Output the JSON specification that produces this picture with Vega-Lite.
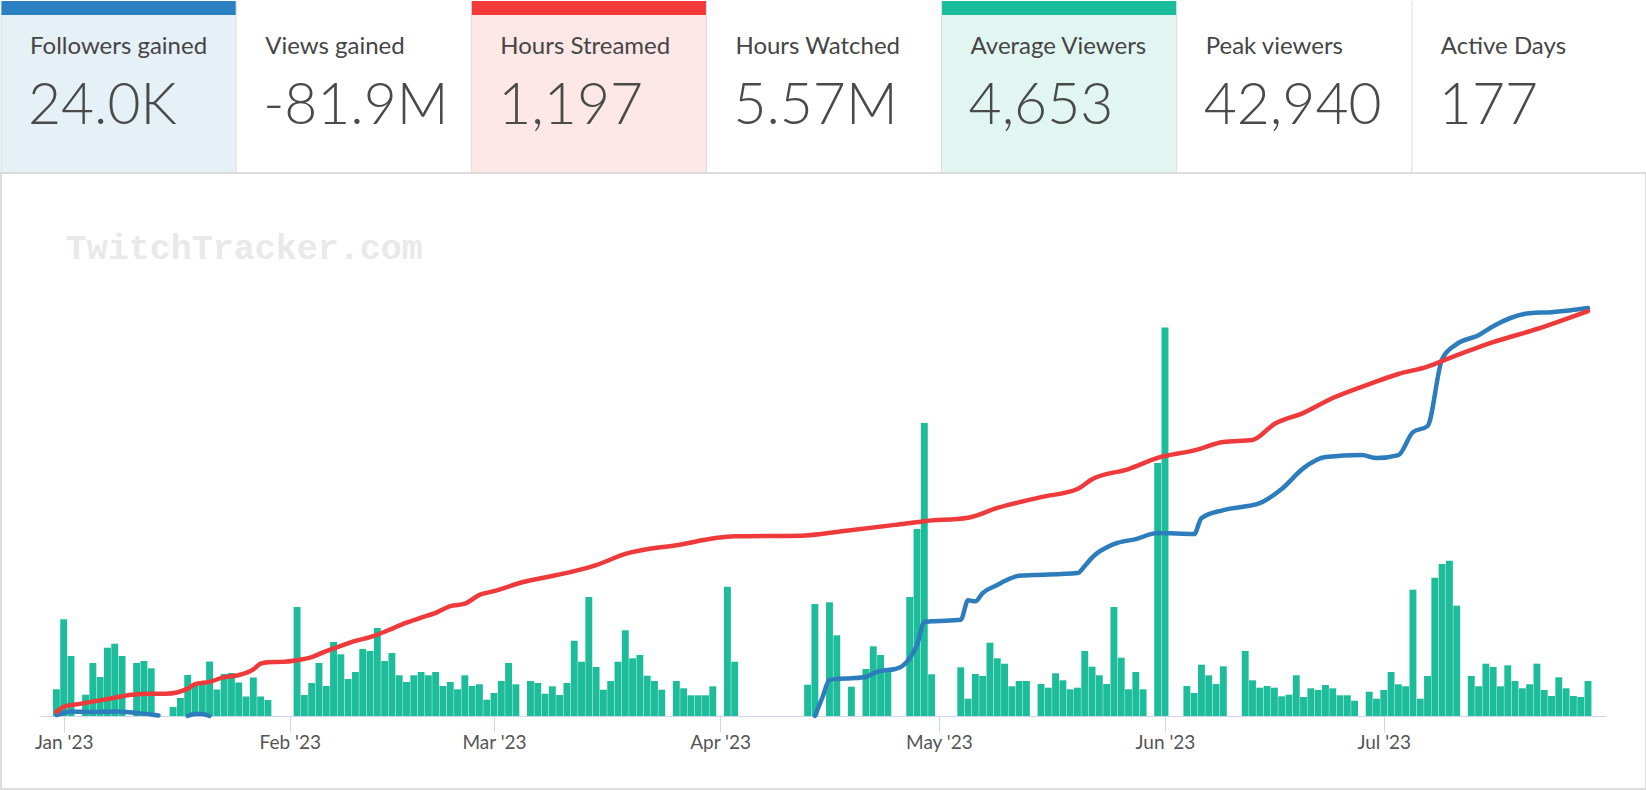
{
  "$schema": "https://vega.github.io/schema/vega-lite/v6.json",
  "background": "white",
  "padding": 0,
  "autosize": {"type": "pad"},
  "bounds": "flush",
  "spacing": 0,
  "config": {"view": {"stroke": null}, "font": "Lato"},
  "resolve": {"scale": {"color": "independent"}},
  "datasets": {
    "cards": [
      {"card": "Followers gained", "value": "24.0K"},
      {"card": "Views gained", "value": "-81.9M"},
      {"card": "Hours Streamed", "value": "1,197"},
      {"card": "Hours Watched", "value": "5.57M"},
      {"card": "Average Viewers", "value": "4,653"},
      {"card": "Peak viewers", "value": "42,940"},
      {"card": "Active Days", "value": "177"}
    ],
    "daily": [
      {"date": "2022-12-31", "viewers": 2670},
      {"date": "2023-01-01", "viewers": 9670},
      {"date": "2023-01-02", "viewers": 6000},
      {"date": "2023-01-04", "viewers": 2130},
      {"date": "2023-01-05", "viewers": 5300},
      {"date": "2023-01-06", "viewers": 3900},
      {"date": "2023-01-07", "viewers": 6830},
      {"date": "2023-01-08", "viewers": 7230},
      {"date": "2023-01-09", "viewers": 6000},
      {"date": "2023-01-11", "viewers": 5300},
      {"date": "2023-01-12", "viewers": 5500},
      {"date": "2023-01-13", "viewers": 4770},
      {"date": "2023-01-16", "viewers": 900},
      {"date": "2023-01-17", "viewers": 1800},
      {"date": "2023-01-18", "viewers": 4100},
      {"date": "2023-01-19", "viewers": 3200},
      {"date": "2023-01-20", "viewers": 3200},
      {"date": "2023-01-21", "viewers": 5450},
      {"date": "2023-01-22", "viewers": 2650},
      {"date": "2023-01-23", "viewers": 4200},
      {"date": "2023-01-24", "viewers": 4300},
      {"date": "2023-01-25", "viewers": 3350},
      {"date": "2023-01-26", "viewers": 1950},
      {"date": "2023-01-27", "viewers": 3850},
      {"date": "2023-01-28", "viewers": 1950},
      {"date": "2023-01-29", "viewers": 1600},
      {"date": "2023-02-02", "viewers": 10900},
      {"date": "2023-02-03", "viewers": 2100},
      {"date": "2023-02-04", "viewers": 3300},
      {"date": "2023-02-05", "viewers": 5300},
      {"date": "2023-02-06", "viewers": 3000},
      {"date": "2023-02-07", "viewers": 7400},
      {"date": "2023-02-08", "viewers": 6170},
      {"date": "2023-02-09", "viewers": 3700},
      {"date": "2023-02-10", "viewers": 4400},
      {"date": "2023-02-11", "viewers": 6700},
      {"date": "2023-02-12", "viewers": 6500},
      {"date": "2023-02-13", "viewers": 8800},
      {"date": "2023-02-14", "viewers": 5500},
      {"date": "2023-02-15", "viewers": 6300},
      {"date": "2023-02-16", "viewers": 4070},
      {"date": "2023-02-17", "viewers": 3400},
      {"date": "2023-02-18", "viewers": 4070},
      {"date": "2023-02-19", "viewers": 4400},
      {"date": "2023-02-20", "viewers": 4070},
      {"date": "2023-02-21", "viewers": 4400},
      {"date": "2023-02-22", "viewers": 3000},
      {"date": "2023-02-23", "viewers": 3400},
      {"date": "2023-02-24", "viewers": 2670},
      {"date": "2023-02-25", "viewers": 4070},
      {"date": "2023-02-26", "viewers": 3000},
      {"date": "2023-02-27", "viewers": 3170},
      {"date": "2023-02-28", "viewers": 1630},
      {"date": "2023-03-01", "viewers": 2300},
      {"date": "2023-03-02", "viewers": 3500},
      {"date": "2023-03-03", "viewers": 5300},
      {"date": "2023-03-04", "viewers": 3170},
      {"date": "2023-03-06", "viewers": 3500},
      {"date": "2023-03-07", "viewers": 3300},
      {"date": "2023-03-08", "viewers": 2230},
      {"date": "2023-03-09", "viewers": 2970},
      {"date": "2023-03-10", "viewers": 2100},
      {"date": "2023-03-11", "viewers": 3300},
      {"date": "2023-03-12", "viewers": 7530},
      {"date": "2023-03-13", "viewers": 5430},
      {"date": "2023-03-14", "viewers": 11900},
      {"date": "2023-03-15", "viewers": 4900},
      {"date": "2023-03-16", "viewers": 2630},
      {"date": "2023-03-17", "viewers": 3500},
      {"date": "2023-03-18", "viewers": 5430},
      {"date": "2023-03-19", "viewers": 8570},
      {"date": "2023-03-20", "viewers": 5770},
      {"date": "2023-03-21", "viewers": 6100},
      {"date": "2023-03-22", "viewers": 4030},
      {"date": "2023-03-23", "viewers": 3500},
      {"date": "2023-03-24", "viewers": 2630},
      {"date": "2023-03-26", "viewers": 3500},
      {"date": "2023-03-27", "viewers": 2770},
      {"date": "2023-03-28", "viewers": 2070},
      {"date": "2023-03-29", "viewers": 2070},
      {"date": "2023-03-30", "viewers": 2070},
      {"date": "2023-03-31", "viewers": 2970},
      {"date": "2023-04-02", "viewers": 12930},
      {"date": "2023-04-03", "viewers": 5430},
      {"date": "2023-04-13", "viewers": 3130},
      {"date": "2023-04-14", "viewers": 11200},
      {"date": "2023-04-16", "viewers": 11370},
      {"date": "2023-04-17", "viewers": 8070},
      {"date": "2023-04-19", "viewers": 2930},
      {"date": "2023-04-21", "viewers": 4700},
      {"date": "2023-04-22", "viewers": 6970},
      {"date": "2023-04-23", "viewers": 6100},
      {"date": "2023-04-24", "viewers": 4700},
      {"date": "2023-04-27", "viewers": 11900},
      {"date": "2023-04-28", "viewers": 18700},
      {"date": "2023-04-29", "viewers": 29300},
      {"date": "2023-04-30", "viewers": 4170},
      {"date": "2023-05-04", "viewers": 4870},
      {"date": "2023-05-05", "viewers": 1730},
      {"date": "2023-05-06", "viewers": 4200},
      {"date": "2023-05-07", "viewers": 4000},
      {"date": "2023-05-08", "viewers": 7330},
      {"date": "2023-05-09", "viewers": 5770},
      {"date": "2023-05-10", "viewers": 5230},
      {"date": "2023-05-11", "viewers": 2970},
      {"date": "2023-05-12", "viewers": 3500},
      {"date": "2023-05-13", "viewers": 3500},
      {"date": "2023-05-15", "viewers": 3200},
      {"date": "2023-05-16", "viewers": 2830},
      {"date": "2023-05-17", "viewers": 4270},
      {"date": "2023-05-18", "viewers": 3570},
      {"date": "2023-05-19", "viewers": 2670},
      {"date": "2023-05-20", "viewers": 2830},
      {"date": "2023-05-21", "viewers": 6500},
      {"date": "2023-05-22", "viewers": 4930},
      {"date": "2023-05-23", "viewers": 4070},
      {"date": "2023-05-24", "viewers": 3200},
      {"date": "2023-05-25", "viewers": 10900},
      {"date": "2023-05-26", "viewers": 5830},
      {"date": "2023-05-27", "viewers": 2670},
      {"date": "2023-05-28", "viewers": 4400},
      {"date": "2023-05-29", "viewers": 2670},
      {"date": "2023-05-31", "viewers": 25300},
      {"date": "2023-06-01", "viewers": 38850},
      {"date": "2023-06-04", "viewers": 3000},
      {"date": "2023-06-05", "viewers": 2300},
      {"date": "2023-06-06", "viewers": 5130},
      {"date": "2023-06-07", "viewers": 4070},
      {"date": "2023-06-08", "viewers": 3200},
      {"date": "2023-06-09", "viewers": 4970},
      {"date": "2023-06-12", "viewers": 6500},
      {"date": "2023-06-13", "viewers": 3570},
      {"date": "2023-06-14", "viewers": 2830},
      {"date": "2023-06-15", "viewers": 3000},
      {"date": "2023-06-16", "viewers": 2830},
      {"date": "2023-06-17", "viewers": 1970},
      {"date": "2023-06-18", "viewers": 2130},
      {"date": "2023-06-19", "viewers": 4070},
      {"date": "2023-06-20", "viewers": 1900},
      {"date": "2023-06-21", "viewers": 2770},
      {"date": "2023-06-22", "viewers": 2600},
      {"date": "2023-06-23", "viewers": 3100},
      {"date": "2023-06-24", "viewers": 2770},
      {"date": "2023-06-25", "viewers": 2070},
      {"date": "2023-06-26", "viewers": 2070},
      {"date": "2023-06-27", "viewers": 1530},
      {"date": "2023-06-29", "viewers": 2430},
      {"date": "2023-06-30", "viewers": 1730},
      {"date": "2023-07-01", "viewers": 2600},
      {"date": "2023-07-02", "viewers": 4400},
      {"date": "2023-07-03", "viewers": 3170},
      {"date": "2023-07-04", "viewers": 2970},
      {"date": "2023-07-05", "viewers": 12630},
      {"date": "2023-07-06", "viewers": 1730},
      {"date": "2023-07-07", "viewers": 4000},
      {"date": "2023-07-08", "viewers": 13830},
      {"date": "2023-07-09", "viewers": 15200},
      {"date": "2023-07-10", "viewers": 15530},
      {"date": "2023-07-11", "viewers": 11030},
      {"date": "2023-07-13", "viewers": 4000},
      {"date": "2023-07-14", "viewers": 2970},
      {"date": "2023-07-15", "viewers": 5230},
      {"date": "2023-07-16", "viewers": 4900},
      {"date": "2023-07-17", "viewers": 2970},
      {"date": "2023-07-18", "viewers": 5070},
      {"date": "2023-07-19", "viewers": 3500},
      {"date": "2023-07-20", "viewers": 2770},
      {"date": "2023-07-21", "viewers": 3170},
      {"date": "2023-07-22", "viewers": 5230},
      {"date": "2023-07-23", "viewers": 2600},
      {"date": "2023-07-24", "viewers": 2000},
      {"date": "2023-07-25", "viewers": 3870},
      {"date": "2023-07-26", "viewers": 2770},
      {"date": "2023-07-27", "viewers": 2000},
      {"date": "2023-07-28", "viewers": 1900},
      {"date": "2023-07-29", "viewers": 3500}
    ],
    "hours": [
      {"date": "2022-12-31", "hours": 12},
      {"date": "2023-01-01", "hours": 27},
      {"date": "2023-01-03", "hours": 35},
      {"date": "2023-01-08", "hours": 54},
      {"date": "2023-01-10", "hours": 62},
      {"date": "2023-01-13", "hours": 66},
      {"date": "2023-01-15", "hours": 66},
      {"date": "2023-01-18", "hours": 81},
      {"date": "2023-01-19", "hours": 94},
      {"date": "2023-01-21", "hours": 101},
      {"date": "2023-01-23", "hours": 115},
      {"date": "2023-01-25", "hours": 121},
      {"date": "2023-01-27", "hours": 138},
      {"date": "2023-01-28", "hours": 155},
      {"date": "2023-01-29", "hours": 159},
      {"date": "2023-01-31", "hours": 160},
      {"date": "2023-02-02", "hours": 165},
      {"date": "2023-02-04", "hours": 174},
      {"date": "2023-02-06", "hours": 192},
      {"date": "2023-02-08", "hours": 207},
      {"date": "2023-02-10", "hours": 222},
      {"date": "2023-02-12", "hours": 233},
      {"date": "2023-02-14", "hours": 249},
      {"date": "2023-02-17", "hours": 276},
      {"date": "2023-02-19", "hours": 291},
      {"date": "2023-02-21", "hours": 305},
      {"date": "2023-02-23", "hours": 325},
      {"date": "2023-02-25", "hours": 332},
      {"date": "2023-02-27", "hours": 358},
      {"date": "2023-03-01", "hours": 369},
      {"date": "2023-03-05", "hours": 396},
      {"date": "2023-03-11", "hours": 423},
      {"date": "2023-03-15", "hours": 446},
      {"date": "2023-03-19", "hours": 479},
      {"date": "2023-03-26", "hours": 505},
      {"date": "2023-04-03", "hours": 531},
      {"date": "2023-04-12", "hours": 533},
      {"date": "2023-04-18", "hours": 547},
      {"date": "2023-04-25", "hours": 565},
      {"date": "2023-04-29", "hours": 576},
      {"date": "2023-05-05", "hours": 586},
      {"date": "2023-05-09", "hours": 615},
      {"date": "2023-05-15", "hours": 647},
      {"date": "2023-05-20", "hours": 671},
      {"date": "2023-05-22", "hours": 700},
      {"date": "2023-05-27", "hours": 730},
      {"date": "2023-05-31", "hours": 763},
      {"date": "2023-06-05", "hours": 785},
      {"date": "2023-06-09", "hours": 810},
      {"date": "2023-06-13", "hours": 816},
      {"date": "2023-06-16", "hours": 863},
      {"date": "2023-06-20", "hours": 896},
      {"date": "2023-06-24", "hours": 940},
      {"date": "2023-06-29", "hours": 981},
      {"date": "2023-07-03", "hours": 1011},
      {"date": "2023-07-07", "hours": 1033},
      {"date": "2023-07-10", "hours": 1058},
      {"date": "2023-07-16", "hours": 1105},
      {"date": "2023-07-22", "hours": 1144},
      {"date": "2023-07-29", "hours": 1197}
    ],
    "followers": [
      {"date": "2022-12-31", "followers": 60, "seg": "a"},
      {"date": "2023-01-01", "followers": 175, "seg": "a"},
      {"date": "2023-01-02", "followers": 265, "seg": "a"},
      {"date": "2023-01-05", "followers": 235, "seg": "a"},
      {"date": "2023-01-08", "followers": 265, "seg": "a"},
      {"date": "2023-01-11", "followers": 175, "seg": "a"},
      {"date": "2023-01-13", "followers": 90, "seg": "a"},
      {"date": "2023-01-14", "followers": 30, "seg": "a"},
      {"date": "2023-01-18", "followers": 0, "seg": "b"},
      {"date": "2023-01-19", "followers": 120, "seg": "b"},
      {"date": "2023-01-20", "followers": 120, "seg": "b"},
      {"date": "2023-01-21", "followers": 0, "seg": "b"},
      {"date": "2023-04-14", "followers": 0, "seg": "c"},
      {"date": "2023-04-15", "followers": 1058, "seg": "c"},
      {"date": "2023-04-16", "followers": 2117, "seg": "c"},
      {"date": "2023-04-17", "followers": 2176, "seg": "c"},
      {"date": "2023-04-19", "followers": 2217, "seg": "c"},
      {"date": "2023-04-21", "followers": 2293, "seg": "c"},
      {"date": "2023-04-22", "followers": 2511, "seg": "c"},
      {"date": "2023-04-23", "followers": 2646, "seg": "c"},
      {"date": "2023-04-25", "followers": 2764, "seg": "c"},
      {"date": "2023-04-26", "followers": 2940, "seg": "c"},
      {"date": "2023-04-27", "followers": 3393, "seg": "c"},
      {"date": "2023-04-28", "followers": 4175, "seg": "c"},
      {"date": "2023-04-29", "followers": 5527, "seg": "c"},
      {"date": "2023-04-30", "followers": 5568, "seg": "c"},
      {"date": "2023-05-04", "followers": 5662, "seg": "c"},
      {"date": "2023-05-05", "followers": 6803, "seg": "c"},
      {"date": "2023-05-06", "followers": 6744, "seg": "c"},
      {"date": "2023-05-07", "followers": 7232, "seg": "c"},
      {"date": "2023-05-09", "followers": 7703, "seg": "c"},
      {"date": "2023-05-10", "followers": 7938, "seg": "c"},
      {"date": "2023-05-12", "followers": 8250, "seg": "c"},
      {"date": "2023-05-14", "followers": 8291, "seg": "c"},
      {"date": "2023-05-20", "followers": 8408, "seg": "c"},
      {"date": "2023-05-21", "followers": 8820, "seg": "c"},
      {"date": "2023-05-22", "followers": 9320, "seg": "c"},
      {"date": "2023-05-25", "followers": 10114, "seg": "c"},
      {"date": "2023-05-28", "followers": 10408, "seg": "c"},
      {"date": "2023-05-31", "followers": 10760, "seg": "c"},
      {"date": "2023-06-05", "followers": 10702, "seg": "c"},
      {"date": "2023-06-06", "followers": 11642, "seg": "c"},
      {"date": "2023-06-09", "followers": 12113, "seg": "c"},
      {"date": "2023-06-14", "followers": 12524, "seg": "c"},
      {"date": "2023-06-17", "followers": 13348, "seg": "c"},
      {"date": "2023-06-20", "followers": 14582, "seg": "c"},
      {"date": "2023-06-23", "followers": 15229, "seg": "c"},
      {"date": "2023-06-28", "followers": 15347, "seg": "c"},
      {"date": "2023-06-30", "followers": 15170, "seg": "c"},
      {"date": "2023-07-03", "followers": 15347, "seg": "c"},
      {"date": "2023-07-05", "followers": 16699, "seg": "c"},
      {"date": "2023-07-07", "followers": 17052, "seg": "c"},
      {"date": "2023-07-09", "followers": 20992, "seg": "c"},
      {"date": "2023-07-11", "followers": 21874, "seg": "c"},
      {"date": "2023-07-14", "followers": 22403, "seg": "c"},
      {"date": "2023-07-16", "followers": 22932, "seg": "c"},
      {"date": "2023-07-21", "followers": 23696, "seg": "c"},
      {"date": "2023-07-24", "followers": 23755, "seg": "c"},
      {"date": "2023-07-29", "followers": 24000, "seg": "c"}
    ]
  },
  "vconcat": [
    {
      "width": 1646,
      "height": 14,
      "data": {"name": "cards"},
      "layer": [
        {
          "mark": {"type": "rect"},
          "encoding": {
            "x": {"field": "card", "type": "nominal", "sort": null, "axis": null, "scale": {"paddingInner": 0, "paddingOuter": 0}},
            "color": {"field": "card", "type": "nominal", "legend": null, "scale": {"domain": ["Followers gained", "Views gained", "Hours Streamed", "Hours Watched", "Average Viewers", "Peak viewers", "Active Days"], "range": ["#2a80c1", "#ffffff", "#f33a3a", "#ffffff", "#1abc9c", "#ffffff", "#ffffff"]}}
          }
        },
        {
          "mark": {"type": "rule", "color": "#dcdcdc", "strokeWidth": 1},
          "encoding": {"x": {"field": "card", "type": "nominal", "sort": null, "bandPosition": 0}}
        }
      ]
    },
    {
      "width": 1646,
      "height": 158,
      "data": {"name": "cards"},
      "layer": [
        {
          "mark": {"type": "rect"},
          "encoding": {
            "x": {"field": "card", "type": "nominal", "sort": null, "axis": null, "scale": {"paddingInner": 0, "paddingOuter": 0}},
            "color": {"field": "card", "type": "nominal", "legend": null, "scale": {"domain": ["Followers gained", "Views gained", "Hours Streamed", "Hours Watched", "Average Viewers", "Peak viewers", "Active Days"], "range": ["#e6f0f7", "#ffffff", "#fde7e7", "#ffffff", "#e2f6f1", "#ffffff", "#ffffff"]}}
          }
        },
        {
          "mark": {"type": "rule", "color": "#dcdcdc", "strokeWidth": 1},
          "encoding": {"x": {"field": "card", "type": "nominal", "sort": null, "bandPosition": 0}}
        },
        {
          "mark": {"type": "text", "align": "left", "baseline": "middle", "dx": 29, "dy": -47, "fontSize": 24, "font": "Lato", "color": "#454545"},
          "encoding": {
            "x": {"field": "card", "type": "nominal", "sort": null, "bandPosition": 0},
            "text": {"field": "card"}
          }
        },
        {
          "mark": {"type": "text", "align": "left", "baseline": "middle", "dx": 27, "dy": 13, "fontSize": 57, "fontWeight": 300, "font": "Lato", "color": "#4a4a4a"},
          "encoding": {
            "x": {"field": "card", "type": "nominal", "sort": null, "bandPosition": 0},
            "text": {"field": "value"}
          }
        }
      ]
    },
    {
      "width": 1645,
      "height": 616,
      "view": {"stroke": "#d2d2d2", "strokeWidth": 1.5},
      "resolve": {"scale": {"y": "independent"}},
      "layer": [
        {
          "data": {"values": [{"label": "TwitchTracker.com"}]},
          "mark": {"type": "text", "align": "left", "baseline": "middle", "dx": 2, "font": "Liberation Mono", "fontSize": 35, "fontWeight": "bold", "color": "#e9e9e9"},
          "encoding": {
            "x": {"datum": {"year": 2023, "month": 1, "date": 1, "utc": true}, "type": "temporal"},
            "y": {"datum": 468, "type": "quantitative", "scale": {"domain": [0, 500], "range": [543, 43], "nice": false}, "axis": null},
            "text": {"field": "label"}
          }
        },
        {
          "data": {"name": "daily"},
          "mark": {"type": "bar", "width": 6.9, "color": "#1dbc9a"},
          "encoding": {
            "x": {
              "field": "date", "type": "temporal",
              "scale": {"type": "utc", "domain": [{"year": 2022, "month": 12, "date": 28, "hours": 18, "utc": true}, {"year": 2023, "month": 7, "date": 31, "hours": 8, "utc": true}], "range": [39, 1604], "nice": false, "padding": 0},
              "axis": {
                "values": [
                  {"year": 2023, "month": 1, "date": 1, "utc": true},
                  {"year": 2023, "month": 2, "date": 1, "utc": true},
                  {"year": 2023, "month": 3, "date": 1, "utc": true},
                  {"year": 2023, "month": 4, "date": 1, "utc": true},
                  {"year": 2023, "month": 5, "date": 1, "utc": true},
                  {"year": 2023, "month": 6, "date": 1, "utc": true},
                  {"year": 2023, "month": 7, "date": 1, "utc": true}
                ],
                "format": "%b '%y",
                "offset": -73,
                "domainColor": "#ccd6eb",
                "domainWidth": 1,
                "tickColor": "#ccd6eb",
                "tickSize": 16,
                "tickWidth": 1,
                "labelFont": "Lato",
                "labelFontSize": 19,
                "labelColor": "#555555",
                "labelPadding": 10,
                "labelBaseline": "middle",
                "labelFlush": false,
                "labelOverlap": false,
                "grid": false,
                "title": null
              }
            },
            "y": {"field": "viewers", "type": "quantitative", "scale": {"domain": [0, 50000], "range": [543, 43], "nice": false}, "axis": null}
          }
        },
        {
          "data": {"name": "followers"},
          "mark": {"type": "line", "color": "#2d7dbd", "strokeWidth": 4.5, "interpolate": "monotone", "strokeCap": "round", "strokeJoin": "round"},
          "encoding": {
            "x": {"field": "date", "type": "temporal"},
            "y": {"field": "followers", "type": "quantitative", "scale": {"domain": [0, 29412], "range": [543, 43], "nice": false}, "axis": null},
            "detail": {"field": "seg"}
          }
        },
        {
          "data": {"name": "hours"},
          "mark": {"type": "line", "color": "#ee3a3a", "strokeWidth": 4.5, "interpolate": "monotone", "strokeCap": "round", "strokeJoin": "round"},
          "encoding": {
            "x": {"field": "date", "type": "temporal"},
            "y": {"field": "hours", "type": "quantitative", "scale": {"domain": [0, 1478], "range": [543, 43], "nice": false}, "axis": null}
          }
        }
      ]
    }
  ]
}
